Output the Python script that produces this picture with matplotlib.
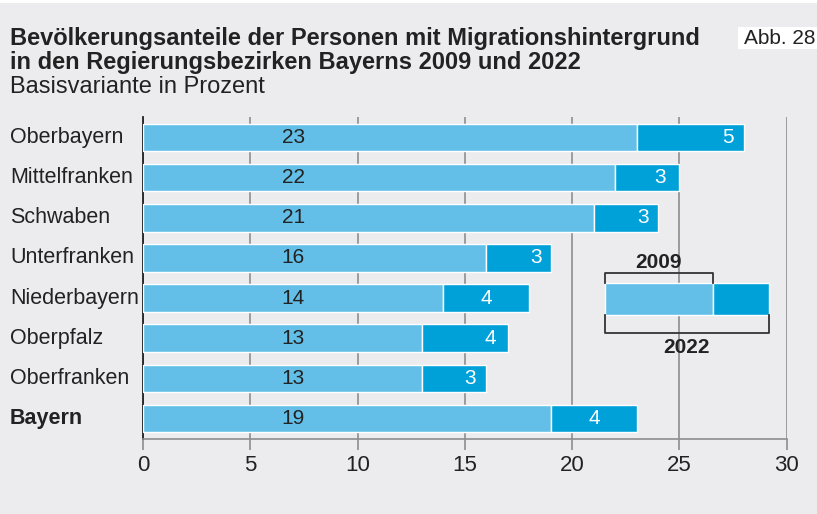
import matplotlib
matplotlib.use("Agg")
import matplotlib.pyplot as plt
from matplotlib.patches import Rectangle
from matplotlib.transforms import blended_transform_factory
import numpy as np

plt.rcParams['font.family'] = ['Liberation Sans', 'DejaVu Sans']

# Daten
bezirke = ["Oberbayern", "Mittelfranken", "Schwaben", "Unterfranken",
           "Niederbayern", "Oberpfalz", "Oberfranken", "Bayern"]
anteil_2009 = [23, 22, 21, 16, 14, 13, 13, 19]
zuwachs_2022 = [5, 3, 3, 3, 4, 4, 3, 4]

# Position der Werte im dunklen Balken (Layout)
pos_zuwachs = [27.25, 24.1, 23.3, 18.3, 16.0, 16.2, 15.25, 21.05]

hell = "#63bfe8"
dunkel = "#00a1d9"
hg = "#ececee"
txt = "#222222"

fig = plt.figure(figsize=(8.17, 5.14), dpi=100, facecolor=hg)
ax = fig.add_axes([0.175, 0.1467, 0.788, 0.6249], facecolor=hg)

y = np.arange(len(bezirke))
ax.barh(y, anteil_2009, height=0.685, color=hell, edgecolor="white", linewidth=1, zorder=3)
ax.barh(y, zuwachs_2022, left=anteil_2009, height=0.685, color=dunkel,
        edgecolor="white", linewidth=1, zorder=3)

for i in range(len(bezirke)):
    ax.text(7, y[i], str(anteil_2009[i]), ha="center", va="center",
            fontsize=15, color=txt, zorder=4)
    ax.text(pos_zuwachs[i], y[i], str(zuwachs_2022[i]), ha="center", va="center",
            fontsize=15, color="white", zorder=4)

ax.set_xlim(0, 30)
ax.set_ylim(7.5, -0.5)
ax.set_xticks([0, 5, 10, 15, 20, 25, 30])
ax.set_yticks([])
ax.grid(axis="x", color="#8e8e8e", linewidth=1.2, zorder=0)
ax.tick_params(axis="x", length=8, width=1.2, color="#8e8e8e", labelsize=16,
               pad=4, labelcolor=txt)
for s in ["top", "right"]:
    ax.spines[s].set_visible(False)
ax.spines["bottom"].set_color("#8e8e8e")
ax.spines["bottom"].set_linewidth(1.2)
ax.spines["left"].set_color(txt)
ax.spines["left"].set_linewidth(1.3)

# Kategorien
trans = blended_transform_factory(fig.transFigure, ax.transData)
for i, name in enumerate(bezirke):
    ax.text(10 / 817, y[i], name, ha="left", va="center", fontsize=15.5,
            color=txt, fontweight="bold" if name == "Bayern" else "normal",
            transform=trans, clip_on=False)

# Legende
ax.add_patch(Rectangle((21.3, 2.55), 8.1, 3.25, facecolor=hg, edgecolor="none", zorder=1))
ax.add_patch(Rectangle((21.52, 3.62), 26.55 - 21.52, 0.8, facecolor=hell,
                       edgecolor="white", linewidth=1, zorder=3))
ax.add_patch(Rectangle((26.55, 3.62), 29.16 - 26.55, 0.8, facecolor=dunkel,
                       edgecolor="white", linewidth=1, zorder=3))
ax.plot([21.52, 21.52, 26.55, 26.55], [3.62, 3.38, 3.38, 3.62], color="#333333",
        linewidth=1.3, zorder=4)
ax.plot([21.52, 21.52, 29.16, 29.16], [4.42, 4.87, 4.87, 4.42], color="#333333",
        linewidth=1.3, zorder=4)
ax.text(24.0, 3.12, "2009", ha="center", va="center", fontsize=15,
        fontweight="bold", color=txt, zorder=4)
ax.text(25.35, 5.22, "2022", ha="center", va="center", fontsize=15,
        fontweight="bold", color=txt, zorder=4)

# Titel
fig.text(10 / 817, 1 - 39 / 514, "Bevölkerungsanteile der Personen mit Migrationshintergrund",
         fontsize=17, fontweight="bold", color=txt, va="center")
fig.text(10 / 817, 1 - 62 / 514, "in den Regierungsbezirken Bayerns 2009 und 2022",
         fontsize=17, fontweight="bold", color=txt, va="center")
fig.text(10 / 817, 1 - 87 / 514, "Basisvariante in Prozent",
         fontsize=17, color=txt, va="center")
fig.patches.append(Rectangle((738 / 817, 1 - 49 / 514), 79 / 817, 22 / 514,
                             transform=fig.transFigure, facecolor="white",
                             edgecolor="none", zorder=0))
fig.text(744 / 817, 1 - 38 / 514, "Abb. 28", fontsize=15, color=txt, va="center")
fig.patches.append(Rectangle((0, 1 - 3 / 514), 1, 3 / 514, transform=fig.transFigure,
                             facecolor="white", edgecolor="none", zorder=0))

fig.savefig("out.png", dpi=100, facecolor=hg)
